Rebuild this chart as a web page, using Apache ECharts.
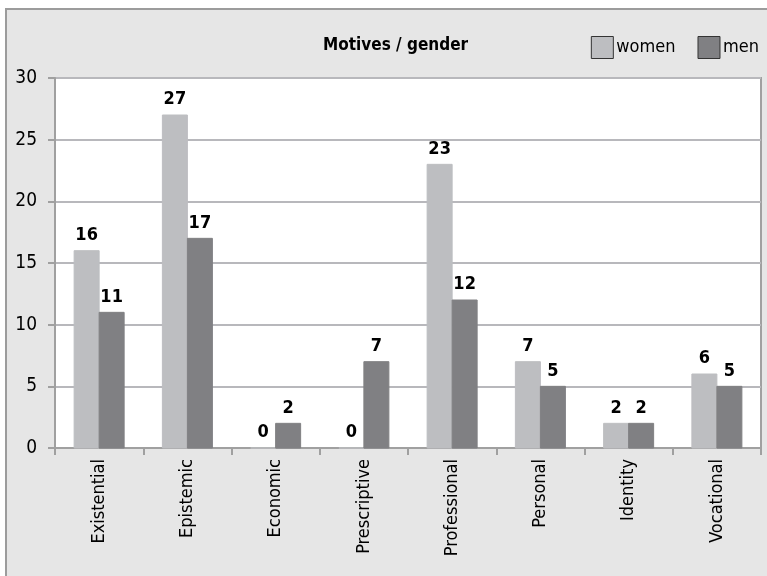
<!DOCTYPE html>
<html><head><meta charset="utf-8">
<script src="https://cdn.jsdelivr.net/npm/echarts@6/dist/echarts.min.js"></script>
<style>html,body{margin:0;padding:0;background:#fff}#c{width:767px;height:576px}</style>
</head><body><div id="c"></div>
<script>
const categories = ['Existential','Epistemic','Economic','Prescriptive','Professional','Personal','Identity','Vocational'];
const women = [16,27,0,0,23,7,2,6];
const men = [11,17,2,7,12,5,2,5];
const yTicks = {min:0, max:30, interval:5};
const FONT = '"Liberation Sans Narrow","DejaVu Sans Condensed","Liberation Sans",sans-serif';

const chart = echarts.init(document.getElementById('c'));
const lbl = {show:true, position:'top', distance:6, color:'#000', fontWeight:'bold', fontSize:18, fontFamily:FONT};
chart.setOption({
  animation:false,
  graphic:[{type:'rect', z:-10, shape:{x:6, y:9, width:800, height:600}, style:{fill:'#e6e6e6', stroke:'#9c9c9c', lineWidth:2}}],
  title:{text:'Motives / gender', left:318, top:32, textStyle:{fontFamily:FONT, fontWeight:'bold', fontSize:17, color:'#000'}},
  legend:{right:3, top:31, itemWidth:22, itemHeight:22, itemGap:22, icon:'rect',
    itemStyle:{borderColor:'#333', borderWidth:1},
    textStyle:{fontFamily:FONT, fontSize:18, color:'#000', padding:[0,0,0,-2]},
    data:['women','men']},
  grid:{left:55, right:6, top:78, bottom:128, show:true, backgroundColor:'#fff', borderColor:'#a0a0a0', borderWidth:2},
  xAxis:{type:'category', data:categories,
    axisLine:{lineStyle:{color:'#a0a0a0', width:2}},
    axisTick:{show:true, length:7, lineStyle:{color:'#a0a0a0', width:2}},
    axisLabel:{rotate:90, margin:11, color:'#000', fontSize:18, fontFamily:FONT}},
  yAxis:{type:'value', min:yTicks.min, max:yTicks.max, interval:yTicks.interval,
    axisLine:{show:true, lineStyle:{color:'#a0a0a0', width:2}},
    axisTick:{show:true, length:7, lineStyle:{color:'#a0a0a0', width:2}},
    splitLine:{lineStyle:{color:'#b8b8bc', width:2}},
    axisLabel:{margin:18, color:'#000', fontSize:19, fontFamily:FONT}},
  series:[
    {name:'women', type:'bar', data:women, barWidth:25, barGap:'0%', itemStyle:{color:'#bdbec1', borderColor:'#bdbec1'}, label:lbl,
     emphasis:{disabled:true}},
    {name:'men', type:'bar', data:men, barWidth:25, barGap:'0%', itemStyle:{color:'#808083', borderColor:'#808083'}, label:lbl,
     emphasis:{disabled:true}}
  ]
});
</script></body></html>
